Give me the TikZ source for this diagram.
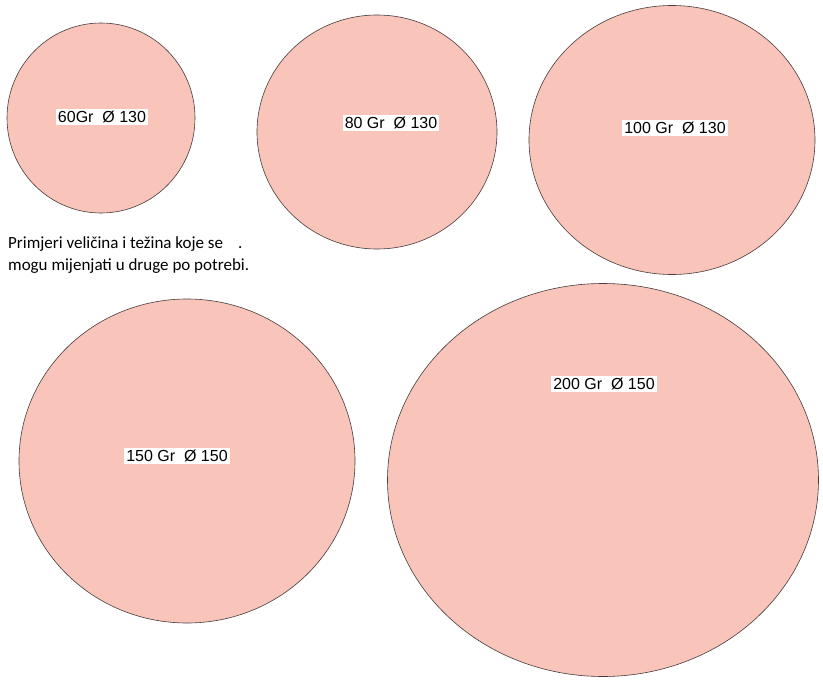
\documentclass[tikz,border=0pt]{standalone}
\usepackage{fontspec}
\setmainfont{Liberation Sans}
\newfontfamily\notefont{Carlito}
\definecolor{disc}{RGB}{249,196,186}
\definecolor{rim}{RGB}{70,60,60}
\begin{document}
\begin{tikzpicture}[x=1pt,y=-1pt,
  plate/.style={draw=rim,line width=0.6pt,fill=disc},
  tag/.style={fill=white,inner xsep=2pt,inner ysep=2.5pt,font=\fontsize{16}{18}\selectfont},
  note/.style={font=\notefont\fontsize{17}{20}\selectfont,anchor=base west,inner sep=0pt}]
\useasboundingbox (0,0) rectangle (823,680);
\fill[white] (0,0) rectangle (823,680);
% plates
\path[plate] (101,118) ellipse [x radius=94,y radius=95];
\path[plate] (377,132) ellipse [x radius=120,y radius=117];
\path[plate] (672,140) ellipse [x radius=143,y radius=134.5];
\path[plate] (187,461) ellipse [x radius=168,y radius=162];
\path[plate] (603,480) ellipse [x radius=215.5,y radius=196.5];
% labels
\node[tag] (l60)  at (102,117) {60Gr\ \ Ø 130};
\node[tag] (l80)  at (391,123) {80 Gr\ \ Ø 130};
\node[tag] (l100) at (675,128) {100 Gr\ \ Ø 130};
\node[tag] (l150) at (177,456) {150 Gr\ \ Ø 150};
\node[tag] (l200) at (604,384) {200 Gr\ \ Ø 150};
% note
\node[note] (txt1) at (8,248) {Primjeri veličina i težina koje se};
\node[note] (txt2) at (8,270) {mogu mijenjati u druge po potrebi.};
\node[note] (dot) at (238,248) {.};
\end{tikzpicture}
\end{document}
